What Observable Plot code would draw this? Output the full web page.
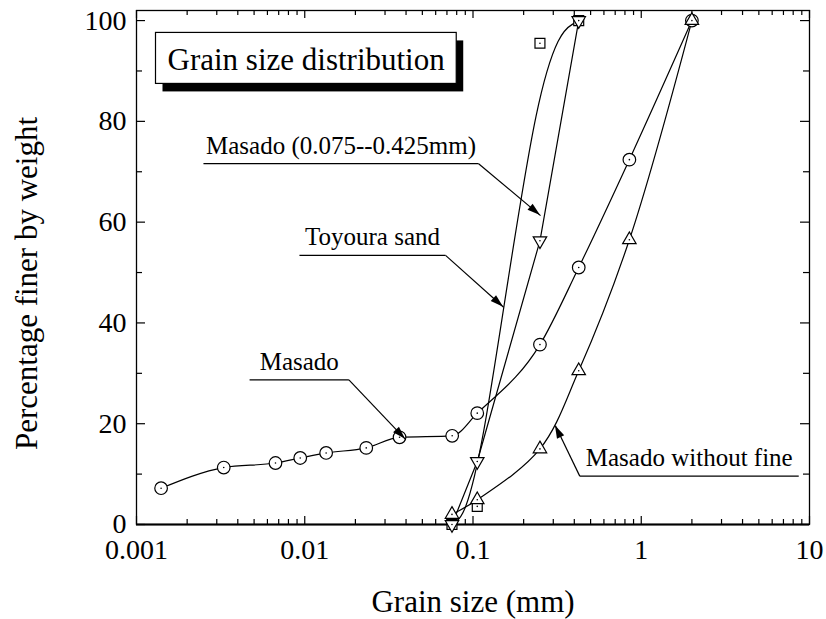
<!DOCTYPE html>
<html><head><meta charset="utf-8">
<script src="https://cdn.jsdelivr.net/npm/d3@7"></script>
<script src="https://cdn.jsdelivr.net/npm/@observablehq/plot@0.6"></script>
<style>body{margin:0;background:#fff} svg{display:block}</style>
</head><body><div id="chart"></div>
<script>
// Masado (circles)
const masadoX = [0.0014, 0.0033, 0.0067, 0.0094, 0.0134, 0.0232, 0.0366, 0.0752, 0.106, 0.25, 0.425, 0.85, 2.0];
const masadoY = [7.2, 11.3, 12.2, 13.2, 14.2, 15.2, 17.3, 17.6, 22.1, 35.7, 51.0, 72.4, 100];
// Masado without fine (triangles)
const noFineX = [0.075, 0.106, 0.25, 0.425, 0.85, 2.0];
const noFineY = [2.0, 4.9, 15.0, 30.5, 56.5, 100];
// Masado (0.075--0.425mm) (inverted triangles)
const fracX = [0.075, 0.106, 0.25, 0.425];
const fracY = [0, 12.5, 56.3, 100];
// Toyoura sand (squares)
const toyouraX = [0.075, 0.106, 0.25, 0.425];
const toyouraY = [0, 3.6, 95.5, 100];
// axes
const xMajor = [0.001, 0.01, 0.1, 1, 10];
const xLabels = ["0.001", "0.01", "0.1", "1", "10"];
const yMajor = [0, 20, 40, 60, 80, 100];
const yLabels = ["0", "20", "40", "60", "80", "100"];
const yMinor = [10, 30, 50, 70, 90];
// callouts
const calloutText = ["Masado (0.075--0.425mm)", "Toyoura sand", "Masado", "Masado without fine"];
const calloutX1 = [0.0025, 0.0093, 0.0047, 0.431];
const calloutX2 = [0.108, 0.0687, 0.0183, 8.63];
const calloutY = [71.6, 53.4, 28.7, 9.6];
const calloutTipX = [0.252, 0.152, 0.0397, 0.309];
const calloutTipY = [61.3, 43.1, 16.9, 19.6];
const titleText = "Grain size distribution";

const pts = (xs, ys) => xs.map((x, i) => ({x, y: ys[i]}));
const masado = pts(masadoX, masadoY);
const noFine = pts(noFineX, noFineY);
const frac = pts(fracX, fracY);
const toyoura = pts(toyouraX, toyouraY);
const xMinor = [];
for (const d of [0.001, 0.01, 0.1, 1]) for (let k = 2; k <= 9; k++) xMinor.push(+(d * k).toPrecision(3));
const callouts = calloutText.map((t, i) => {
  const x1 = calloutX1[i], x2 = calloutX2[i], tx = calloutTipX[i];
  const near = Math.abs(Math.log(tx / x1)) < Math.abs(Math.log(tx / x2)) ? x1 : x2;
  return {t, x1, x2, y: calloutY[i], tx, ty: calloutTipY[i], near};
});

const W = 826, H = 619, mL = 136, mR = 17, mT = 10, mB = 95;
const iw = W - mL - mR, ih = H - mT - mB;
const font = "'Liberation Serif', 'Times New Roman', serif";

const plot = Plot.plot({
  width: W, height: H,
  marginLeft: mL, marginRight: mR, marginTop: mT, marginBottom: mB,
  x: {type: "log", domain: [0.001, 10], axis: null},
  y: {domain: [0, 102], axis: null},
  style: {fontFamily: font, fontSize: "28px", background: "white", color: "black"},
  marks: [
    Plot.frame({stroke: "black", strokeWidth: 1.3}),
    Plot.ruleY([0], {stroke: "black", strokeWidth: 2.2}),
    // x ticks (inward, bottom and top)
    Plot.tickX(xMajor, {x: d => d, insetTop: ih - 8, strokeWidth: 1.2}),
    Plot.tickX(xMajor, {x: d => d, insetBottom: ih - 8, strokeWidth: 1.2}),
    Plot.tickX(xMinor, {x: d => d, insetTop: ih - 5, strokeWidth: 1.2}),
    Plot.tickX(xMinor, {x: d => d, insetBottom: ih - 5, strokeWidth: 1.2}),
    // y ticks (inward, left and right)
    Plot.tickY(yMajor, {y: d => d, insetRight: iw - 9, strokeWidth: 1.2}),
    Plot.tickY(yMajor, {y: d => d, insetLeft: iw - 9, strokeWidth: 1.2}),
    Plot.tickY(yMinor, {y: d => d, insetRight: iw - 6, strokeWidth: 1.2}),
    Plot.tickY(yMinor, {y: d => d, insetLeft: iw - 6, strokeWidth: 1.2}),
    // tick labels
    Plot.text(xMajor, {x: d => d, text: (d, i) => xLabels[i], frameAnchor: "bottom", dy: 26, lineAnchor: "middle", fontSize: 28}),
    Plot.text(yMajor, {y: d => d, text: (d, i) => yLabels[i], frameAnchor: "left", textAnchor: "end", dx: -10, lineAnchor: "middle", fontSize: 28}),
    // axis titles
    Plot.text(["Grain size (mm)"], {frameAnchor: "bottom", dy: 78, lineAnchor: "middle", fontSize: 31}),
    Plot.text(["Percentage finer by weight"], {frameAnchor: "left", textAnchor: "middle", dx: -109, dy: 16, rotate: -90, lineAnchor: "middle", fontSize: 31}),
    // series lines
    Plot.line(masado, {x: "x", y: "y", curve: "monotone-x", stroke: "black", strokeWidth: 1.2}),
    Plot.line(noFine, {x: "x", y: "y", curve: "catmull-rom", stroke: "black", strokeWidth: 1.2}),
    Plot.line(frac, {x: "x", y: "y", curve: "linear", stroke: "black", strokeWidth: 1.2}),
    Plot.line(toyoura, {x: "x", y: "y", curve: "basis", stroke: "black", strokeWidth: 1.2}),
    // markers
    Plot.dot(toyoura, {x: "x", y: "y", symbol: "square", r: 5.6, stroke: "black", fill: "white", strokeWidth: 1.2}),
    Plot.dot(toyoura, {x: "x", y: "y", r: 0.8, fill: "black"}),
    Plot.dot(masado, {x: "x", y: "y", r: 6.3, stroke: "black", fill: "white", strokeWidth: 1.2}),
    Plot.dot(masado, {x: "x", y: "y", r: 0.8, fill: "black"}),
    Plot.dot(noFine, {x: "x", y: "y", symbol: "triangle", r: 5, stroke: "black", fill: "white", strokeWidth: 1.2}),
    Plot.dot(noFine, {x: "x", y: "y", r: 0.8, fill: "black"}),
    Plot.dot(frac, {x: "x", y: "y", symbol: "triangle", rotate: 180, r: 5, stroke: "black", fill: "white", strokeWidth: 1.2}),
    Plot.dot(frac, {x: "x", y: "y", r: 0.8, fill: "black"}),
    // callouts
    Plot.link(callouts, {x1: "x1", x2: "x2", y1: "y", y2: "y", stroke: "black", strokeWidth: 1.3}),
    Plot.link(callouts, {x1: "near", y1: "y", x2: "tx", y2: "ty", stroke: "black", strokeWidth: 1.2}),
    Plot.text(callouts, {x: d => Math.sqrt(d.x1 * d.x2), y: "y", text: "t", dy: -18, lineAnchor: "middle", fontSize: 25}),
    // title
    Plot.text([titleText], {frameAnchor: "top-left", textAnchor: "start", dx: 31, dy: 50, lineAnchor: "middle", fontSize: 31})
  ]
});
document.getElementById("chart").append(plot);

const svg = d3.select(plot);
const sx = plot.scale("x"), sy = plot.scale("y");
// filled arrowheads
const heads = svg.append("g").attr("fill", "black");
callouts.forEach(d => {
  const x0 = sx.apply(d.near), y0 = sy.apply(d.y);
  const x1 = sx.apply(d.tx), y1 = sy.apply(d.ty);
  const a = Math.atan2(y1 - y0, x1 - x0);
  const L = 13, w = 4;
  const bx = x1 - L * Math.cos(a), by = y1 - L * Math.sin(a);
  const p = [[x1, y1], [bx - w * Math.sin(a), by + w * Math.cos(a)], [bx + w * Math.sin(a), by - w * Math.cos(a)]];
  heads.append("path").attr("d", "M" + p.map(q => q.join(",")).join("L") + "Z");
});
// title box with shadow
const svgRect = plot.getBoundingClientRect();
const tnode = svg.selectAll("text").filter(function() { return this.textContent === titleText; }).node();
if (tnode) {
  const r = tnode.getBoundingClientRect();
  const bx0 = r.left - svgRect.left - 12, bx1 = r.right - svgRect.left + 11;
  const by0 = r.top - svgRect.top - 10, by1 = r.bottom - svgRect.top + 6;
  const g = tnode.parentNode;
  const box = svg.insert("g", () => g);
  box.append("rect").attr("x", bx0 + 7).attr("y", by0 + 8).attr("width", bx1 - bx0).attr("height", by1 - by0).attr("fill", "black");
  box.append("rect").attr("x", bx0).attr("y", by0).attr("width", bx1 - bx0).attr("height", by1 - by0).attr("fill", "white").attr("stroke", "black").attr("stroke-width", 1.2);
}
</script>
</body></html>
